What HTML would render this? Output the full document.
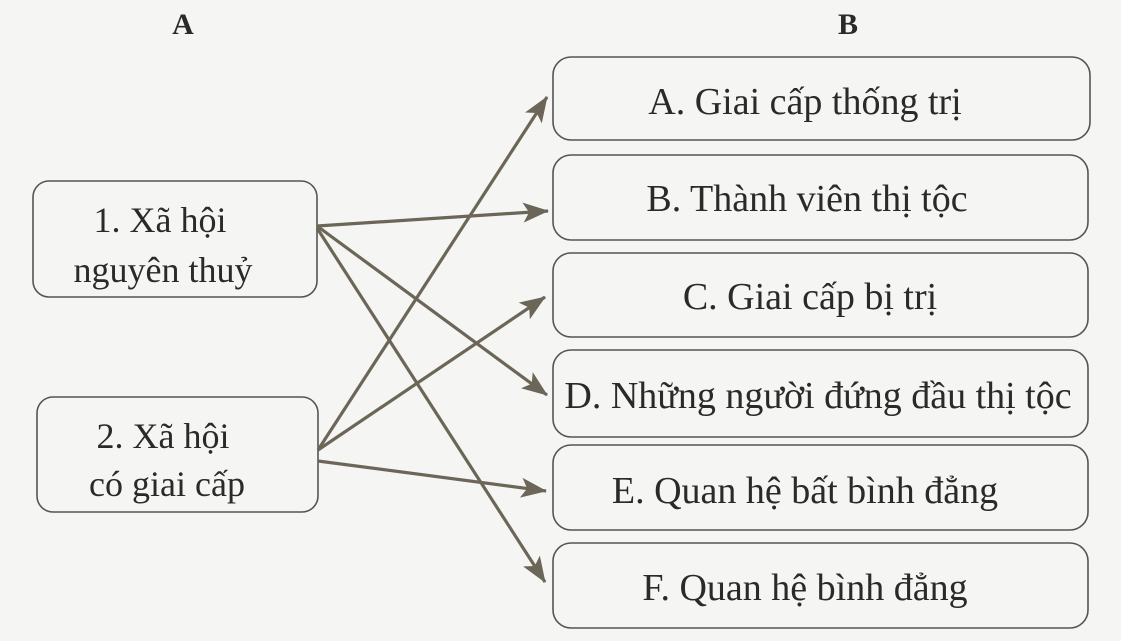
<!DOCTYPE html>
<html><head><meta charset="utf-8"><style>
body{margin:0;width:1121px;height:641px;background:#f5f5f3;overflow:hidden}
svg{position:absolute;left:0;top:0}
text{font-family:"Liberation Serif",serif;fill:#2a2a2a}
</style></head><body>
<svg width="1121" height="641">
<defs><marker id="a" markerWidth="26" markerHeight="20" refX="25" refY="10" orient="auto" markerUnits="userSpaceOnUse" viewBox="0 0 26 20"><path d="M0,0 L26,10 L0,20 L6,10z" fill="#6b6658"/></marker>
</defs>
<g fill="none" stroke="#555" stroke-width="1.6">
<rect x="33" y="181" width="284" height="116" rx="16"/>
<rect x="37" y="397" width="281" height="115" rx="16"/>
<rect x="553" y="57" width="537" height="83" rx="18"/>
<rect x="553" y="155" width="535" height="85" rx="18"/>
<rect x="553" y="253" width="535" height="84" rx="18"/>
<rect x="553" y="350" width="535" height="87" rx="18"/>
<rect x="553" y="445" width="535" height="85" rx="18"/>
<rect x="553" y="543" width="535" height="85" rx="18"/>
</g>
<g stroke="#6b6658" stroke-width="3.2" fill="none">
<line x1="317" y1="226" x2="548" y2="211" marker-end="url(#a)"/>
<line x1="317" y1="226" x2="547" y2="395" marker-end="url(#a)"/>
<line x1="317" y1="228" x2="545" y2="582" marker-end="url(#a)"/>
<line x1="318" y1="450" x2="547" y2="97" marker-end="url(#a)"/>
<line x1="318" y1="450" x2="545" y2="297" marker-end="url(#a)"/>
<line x1="318" y1="461" x2="546" y2="491" marker-end="url(#a)"/>
</g>
<g font-size="38" text-anchor="middle">
<text x="183" y="34" font-weight="bold" font-size="30">A</text>
<text x="848" y="34" font-weight="bold" font-size="30">B</text>
<text x="160" y="232" font-size="36">1. Xã hội</text>
<text x="163" y="282" font-size="36">nguyên thuỷ</text>
<text x="163" y="448" font-size="36">2. Xã hội</text>
<text x="167" y="496" font-size="36">có giai cấp</text>
<text x="805" y="114">A. Giai cấp thống trị</text>
<text x="807" y="211">B. Thành viên thị tộc</text>
<text x="810" y="309">C. Giai cấp bị trị</text>
<text x="818" y="408">D. Những người đứng đầu thị tộc</text>
<text x="805" y="503">E. Quan hệ bất bình đẳng</text>
<text x="805" y="600">F. Quan hệ bình đẳng</text>
</g>
</svg>
</body></html>
